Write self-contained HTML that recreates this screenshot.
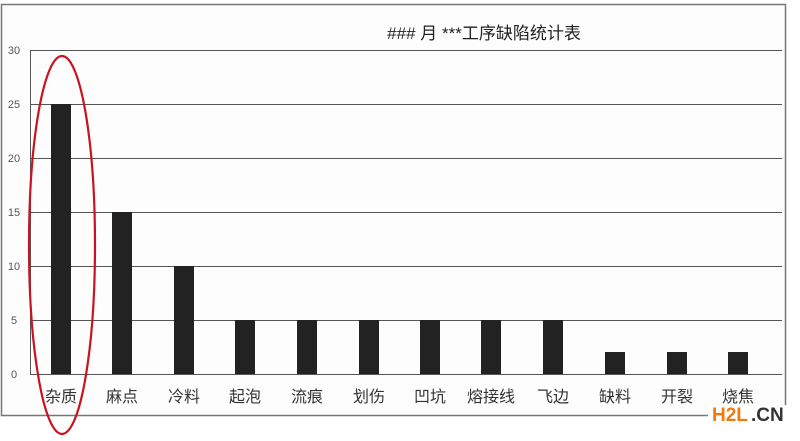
<!DOCTYPE html>
<html><head><meta charset="utf-8"><style>
html,body{margin:0;padding:0;background:#fff;}
</style></head><body>
<svg width="800" height="436" xmlns="http://www.w3.org/2000/svg" font-family="Liberation Sans, Noto Sans CJK SC, sans-serif">
<rect x="0" y="0" width="800" height="436" fill="#fff"/>
<rect x="1.5" y="4.5" width="784" height="411" fill="#fdfdfd" stroke="#777" stroke-width="1.5"/>
<text x="484" y="39" font-size="17" fill="#222" text-anchor="middle">### 月 ***工序缺陷统计表</text>
<g stroke="#555" stroke-width="1">
<line x1="30" y1="50.5" x2="782" y2="50.5"/>
<line x1="30" y1="104.5" x2="782" y2="104.5"/>
<line x1="30" y1="158.5" x2="782" y2="158.5"/>
<line x1="30" y1="212.5" x2="782" y2="212.5"/>
<line x1="30" y1="266.5" x2="782" y2="266.5"/>
<line x1="30" y1="320.5" x2="782" y2="320.5"/>
<line x1="30" y1="374.5" x2="782" y2="374.5"/>
<line x1="30.5" y1="50" x2="30.5" y2="374"/>
</g>
<g font-size="11" fill="#555" text-anchor="middle">
<text x="14" y="54">30</text><text x="14" y="108">25</text><text x="14" y="162">20</text>
<text x="14" y="216">15</text><text x="14" y="270">10</text><text x="14" y="324">5</text><text x="14" y="378">0</text>
</g>
<g fill="#222">
<rect x="51" y="104" width="20" height="270"/>
<rect x="112" y="212" width="20" height="162"/>
<rect x="174" y="266" width="20" height="108"/>
<rect x="235" y="320" width="20" height="54"/>
<rect x="297" y="320" width="20" height="54"/>
<rect x="359" y="320" width="20" height="54"/>
<rect x="420" y="320" width="20" height="54"/>
<rect x="481" y="320" width="20" height="54"/>
<rect x="543" y="320" width="20" height="54"/>
<rect x="605" y="352" width="20" height="22"/>
<rect x="667" y="352" width="20" height="22"/>
<rect x="728" y="352" width="20" height="22"/>
</g>
<rect x="708" y="405" width="82" height="26" fill="#fff"/>
<g font-size="16" fill="#333" text-anchor="middle">
<text x="61" y="402">杂质</text><text x="122" y="402">麻点</text><text x="184" y="402">冷料</text>
<text x="245" y="402">起泡</text><text x="307" y="402">流痕</text><text x="369" y="402">划伤</text>
<text x="430" y="402">凹坑</text><text x="491" y="402">熔接线</text><text x="553" y="402">飞边</text>
<text x="615" y="402">缺料</text><text x="677" y="402">开裂</text><text x="738" y="402">烧焦</text>
</g>
<ellipse cx="62" cy="245" rx="33" ry="189" fill="none" stroke="#c8141e" stroke-width="2.2"/>
<text x="712" y="421" font-size="19" font-weight="bold" fill="#f07a10">H2L</text>
<text x="751" y="421" font-size="19" font-weight="bold" fill="#333">.CN</text>
</svg>
</body></html>
